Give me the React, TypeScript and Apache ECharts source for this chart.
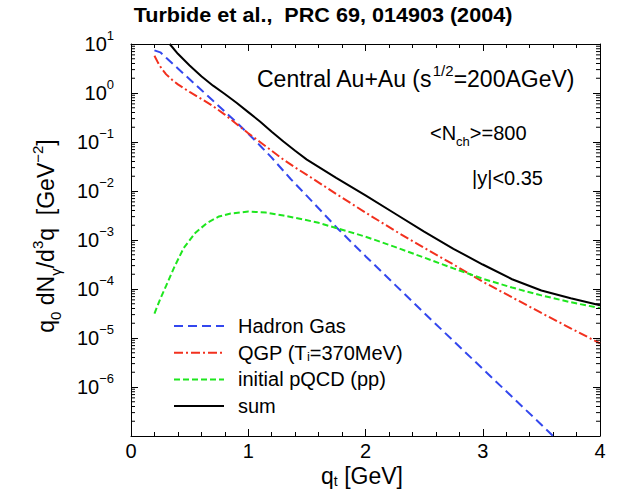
import React, { useEffect, useRef } from "react";
import * as echarts from "echarts";

const FONT = '"Liberation Sans", Arial, Helvetica, sans-serif';

// Hadron Gas (blue dashed)
const hadronX = [0.2, 0.25, 0.3, 0.4, 0.5, 0.6, 0.7, 0.8, 0.9, 1.0, 1.1, 1.2, 1.36, 1.5, 1.76, 2.0, 2.25, 2.5, 2.75, 3.0, 3.25, 3.5, 3.6];
const hadronY = [7.41, 6.76, 5.25, 3.16, 1.91, 1.15, 0.692, 0.417, 0.251, 0.148, 0.0851, 0.0479, 0.0178, 0.00794, 0.00174, 4.68e-4, 1.23e-4, 3.24e-5, 8.71e-6, 2.34e-6, 6.31e-7, 1.7e-7, 1.0e-7];

// QGP (red dash-dot)
const qgpX = [0.2, 0.23, 0.26, 0.3, 0.35, 0.4, 0.5, 0.6, 0.7, 0.8, 0.9, 1.0, 1.1, 1.2, 1.3, 1.4, 1.5, 1.75, 2.0, 2.25, 2.5, 2.75, 3.0, 3.25, 3.5, 3.75, 4.0];
const qgpY = [5.75, 4.17, 3.16, 2.4, 1.86, 1.5, 1.05, 0.759, 0.537, 0.363, 0.234, 0.151, 0.1, 0.0661, 0.0437, 0.0302, 0.0214, 0.00871, 0.00363, 0.00155, 6.92e-4, 3.16e-4, 1.41e-4, 6.76e-5, 3.24e-5, 1.58e-5, 7.76e-6];

// initial pQCD (green short dashes)
const pqcdX = [0.2, 0.25, 0.3, 0.37, 0.45, 0.55, 0.65, 0.75, 0.85, 1.0, 1.15, 1.3, 1.45, 1.6, 1.8, 2.0, 2.25, 2.5, 2.75, 3.0, 3.25, 3.5, 3.75, 4.0];
const pqcdY = [3.16e-5, 6.31e-5, 1.17e-4, 2.82e-4, 6.92e-4, 1.41e-3, 2.24e-3, 3.02e-3, 3.47e-3, 3.8e-3, 3.63e-3, 3.16e-3, 2.69e-3, 2.24e-3, 1.62e-3, 1.17e-3, 7.24e-4, 4.37e-4, 2.63e-4, 1.62e-4, 1.07e-4, 7.41e-5, 5.37e-5, 4.07e-5];

// sum (black solid)
const sumX = [0.33, 0.4, 0.5, 0.6, 0.7, 0.8, 0.9, 1.0, 1.1, 1.2, 1.3, 1.4, 1.5, 1.75, 2.0, 2.25, 2.5, 2.75, 3.0, 3.25, 3.5, 3.75, 4.0];
const sumY = [10, 6.31, 3.63, 2.19, 1.41, 0.955, 0.631, 0.407, 0.263, 0.162, 0.102, 0.0661, 0.0437, 0.0186, 0.00813, 0.00347, 0.00148, 6.61e-4, 3.16e-4, 1.58e-4, 9.33e-5, 6.46e-5, 4.68e-5];

const seriesNames = ["Hadron Gas", "QGP", "initial pQCD (pp)", "sum"];
const yDecades = [-7, -6, -5, -4, -3, -2, -1, 0];
const minorMultipliers = [2, 3, 4, 5, 6, 7, 8, 9];

const pairs = (xs: number[], ys: number[]) => xs.map((x, i) => [x, ys[i]]);

function richSet(base: number, small: number, supOff: number, subOff: number, extra = 10) {
  const lh = base + extra;
  return {
    a: { fontSize: base, fontFamily: FONT, lineHeight: lh, fill: "#000", color: "#000" },
    sup: { fontSize: small, fontFamily: FONT, lineHeight: 2 * (lh / 2 - supOff), verticalAlign: "top", fill: "#000", color: "#000" },
    sub: { fontSize: small, fontFamily: FONT, lineHeight: 2 * (lh / 2 - subOff), verticalAlign: "bottom", fill: "#000", color: "#000" },
  };
}

export default function App() {
  const ref = useRef<HTMLDivElement>(null);
  useEffect(() => {
    if (!ref.current) return;
    const chart = echarts.init(ref.current, undefined, { renderer: "svg" });

    const minorTickValues: number[][] = [];
    yDecades.forEach((e) => {
      minorMultipliers.forEach((k) => minorTickValues.push([0, k * Math.pow(10, e)]));
    });

    const axisLineStyle = { color: "#000", width: 1 };
    const xCommon = {
      type: "value",
      min: 0,
      max: 4,
      interval: 1,
      axisLine: { show: true, onZero: false, lineStyle: axisLineStyle },
      axisTick: { show: true, inside: true, length: 7, lineStyle: { color: "#000", width: 1 } },
      minorTick: { show: true, splitNumber: 5, length: 4, lineStyle: { color: "#000", width: 1 } },
      splitLine: { show: false },
      minorSplitLine: { show: false },
    };
    const yCommon = {
      type: "log",
      logBase: 10,
      min: 1e-7,
      max: 10,
      splitNumber: 8,
      axisLine: { show: true, onZero: false, lineStyle: axisLineStyle },
      axisTick: { show: true, inside: true, length: 7, lineStyle: { color: "#000", width: 1 } },
      splitLine: { show: false },
      minorTick: { show: false },
    };

    const yLabelRich = {
      b: { fontSize: 20, fontFamily: FONT, color: "#000", lineHeight: 30 },
      s: { fontSize: 13, fontFamily: FONT, color: "#000", lineHeight: 18, verticalAlign: "top" },
    };

    const lineCommon = {
      type: "line",
      showSymbol: false,
      symbol: "none",
      smooth: false,
      z: 4,
    };

    const option: any = {
      animation: false,
      backgroundColor: "#fff",
      grid: { left: 131, top: 44, width: 469, height: 392, outerBoundsMode: "none", containLabel: false },
      xAxis: [
        {
          ...xCommon,
          position: "bottom",
          axisLabel: { show: true, fontSize: 20, lineHeight: 16, fontFamily: FONT, color: "#000", margin: 7 },
        },
        { ...xCommon, position: "top", axisLabel: { show: false } },
      ],
      yAxis: [
        {
          ...yCommon,
          position: "left",
          axisLabel: {
            show: true,
            margin: 17,
            formatter: (v: number) => {
              const e = Math.round(Math.log10(v));
              if (e <= -7) return "";
              const es = e < 0 ? "\u2212" + -e : String(e);
              return `{b|10}{s|${es}}`;
            },
            rich: yLabelRich,
          },
        },
        { ...yCommon, position: "right", axisLabel: { show: false } },
      ],
      legend: {
        data: seriesNames,
        orient: "vertical",
        left: 173,
        top: 316,
        padding: 0,
        itemWidth: 50,
        itemHeight: 14,
        itemGap: 6.7,
        selectedMode: false,
        itemStyle: { opacity: 0 },
        formatter: (name: string) => {
          if (name === "QGP") return "{a|QGP (T}{sub|i}{a|=370MeV)}";
          return `{a|${name}}`;
        },
        textStyle: {
          color: "#000",
          fontSize: 20,
          fontFamily: FONT,
          padding: [0, 0, 0, 9],
          rich: {
            a: { fontSize: 20, fontFamily: FONT, color: "#000", lineHeight: 20 },
            sub: { fontSize: 13, fontFamily: FONT, color: "#000", lineHeight: 10, verticalAlign: "bottom" },
          },
        },
      },
      series: [
        {
          ...lineCommon,
          name: "Hadron Gas",
          data: pairs(hadronX, hadronY),
          color: "#3347ee",
          lineStyle: { color: "#3347ee", width: 2, type: [9, 5] },
        },
        {
          ...lineCommon,
          name: "QGP",
          data: pairs(qgpX, qgpY),
          color: "#f2301e",
          lineStyle: { color: "#f2301e", width: 2, type: [9, 3, 2, 3] },
        },
        {
          ...lineCommon,
          name: "initial pQCD (pp)",
          data: pairs(pqcdX, pqcdY),
          color: "#1ee61e",
          lineStyle: { color: "#1ee61e", width: 2, type: [6, 3] },
        },
        {
          ...lineCommon,
          name: "sum",
          data: pairs(sumX, sumY),
          color: "#000",
          lineStyle: { color: "#000", width: 2, type: "solid" },
          z: 5,
        },
        {
          type: "custom",
          name: "yMinorTicks",
          data: minorTickValues,
          silent: true,
          clip: false,
          z: 6,
          renderItem: (params: any, api: any) => {
            const cs = params.coordSys;
            const y = api.coord([0, api.value(1)])[1];
            return {
              type: "group",
              children: [
                { type: "line", shape: { x1: cs.x, y1: y, x2: cs.x + 4, y2: y }, style: { stroke: "#000", lineWidth: 1 } },
                { type: "line", shape: { x1: cs.x + cs.width - 4, y1: y, x2: cs.x + cs.width, y2: y }, style: { stroke: "#000", lineWidth: 1 } },
              ],
            };
          },
        },
      ],
      graphic: [
        {
          type: "text",
          x: 323,
          y: 15,
          scaleX: 1.08,
          style: {
            text: "Turbide et al.,  PRC 69, 014903 (2004)",
            font: `bold 20px ${FONT}`,
            textAlign: "center",
            textVerticalAlign: "middle",
            fill: "#000",
          },
        },
        {
          type: "text",
          x: 257,
          y: 79,
          style: {
            text: "{a|Central Au+Au (s}{sup|1/2}{a|=200AGeV)}",
            rich: richSet(23, 15, 7, 5),
            textAlign: "left",
            textVerticalAlign: "middle",
          },
        },
        {
          type: "text",
          x: 430,
          y: 133,
          style: {
            text: "{a|<N}{sub|ch}{a|>=800}",
            rich: richSet(20, 13, 6, 5),
            textAlign: "left",
            textVerticalAlign: "middle",
          },
        },
        {
          type: "text",
          x: 472,
          y: 178,
          style: {
            text: "{a||y|<0.35}",
            rich: richSet(20, 13, 6, 5),
            textAlign: "left",
            textVerticalAlign: "middle",
          },
        },
        {
          type: "text",
          x: 362,
          y: 476,
          style: {
            text: "{a|q}{sub|t}{a| [GeV]}",
            rich: richSet(23, 14, 6, 4, 0),
            textAlign: "center",
            textVerticalAlign: "middle",
          },
        },
        {
          type: "text",
          x: 46,
          y: 236,
          rotation: Math.PI / 2,
          style: {
            text: "{a|q}{sub|0}{a| dN}{sub|\u03b3}{a|/d}{sup|3}{a|q  [GeV}{sup|\u22122}{a|]}",
            rich: richSet(23, 15, 7, 5),
            textAlign: "center",
            textVerticalAlign: "middle",
          },
        },
      ],
    };

    chart.setOption(option);
    return () => chart.dispose();
  }, []);

  return (
    <div
      ref={ref}
      style={{ position: "absolute", left: 0, top: 0, width: 618, height: 496, background: "#fff" }}
    />
  );
}
